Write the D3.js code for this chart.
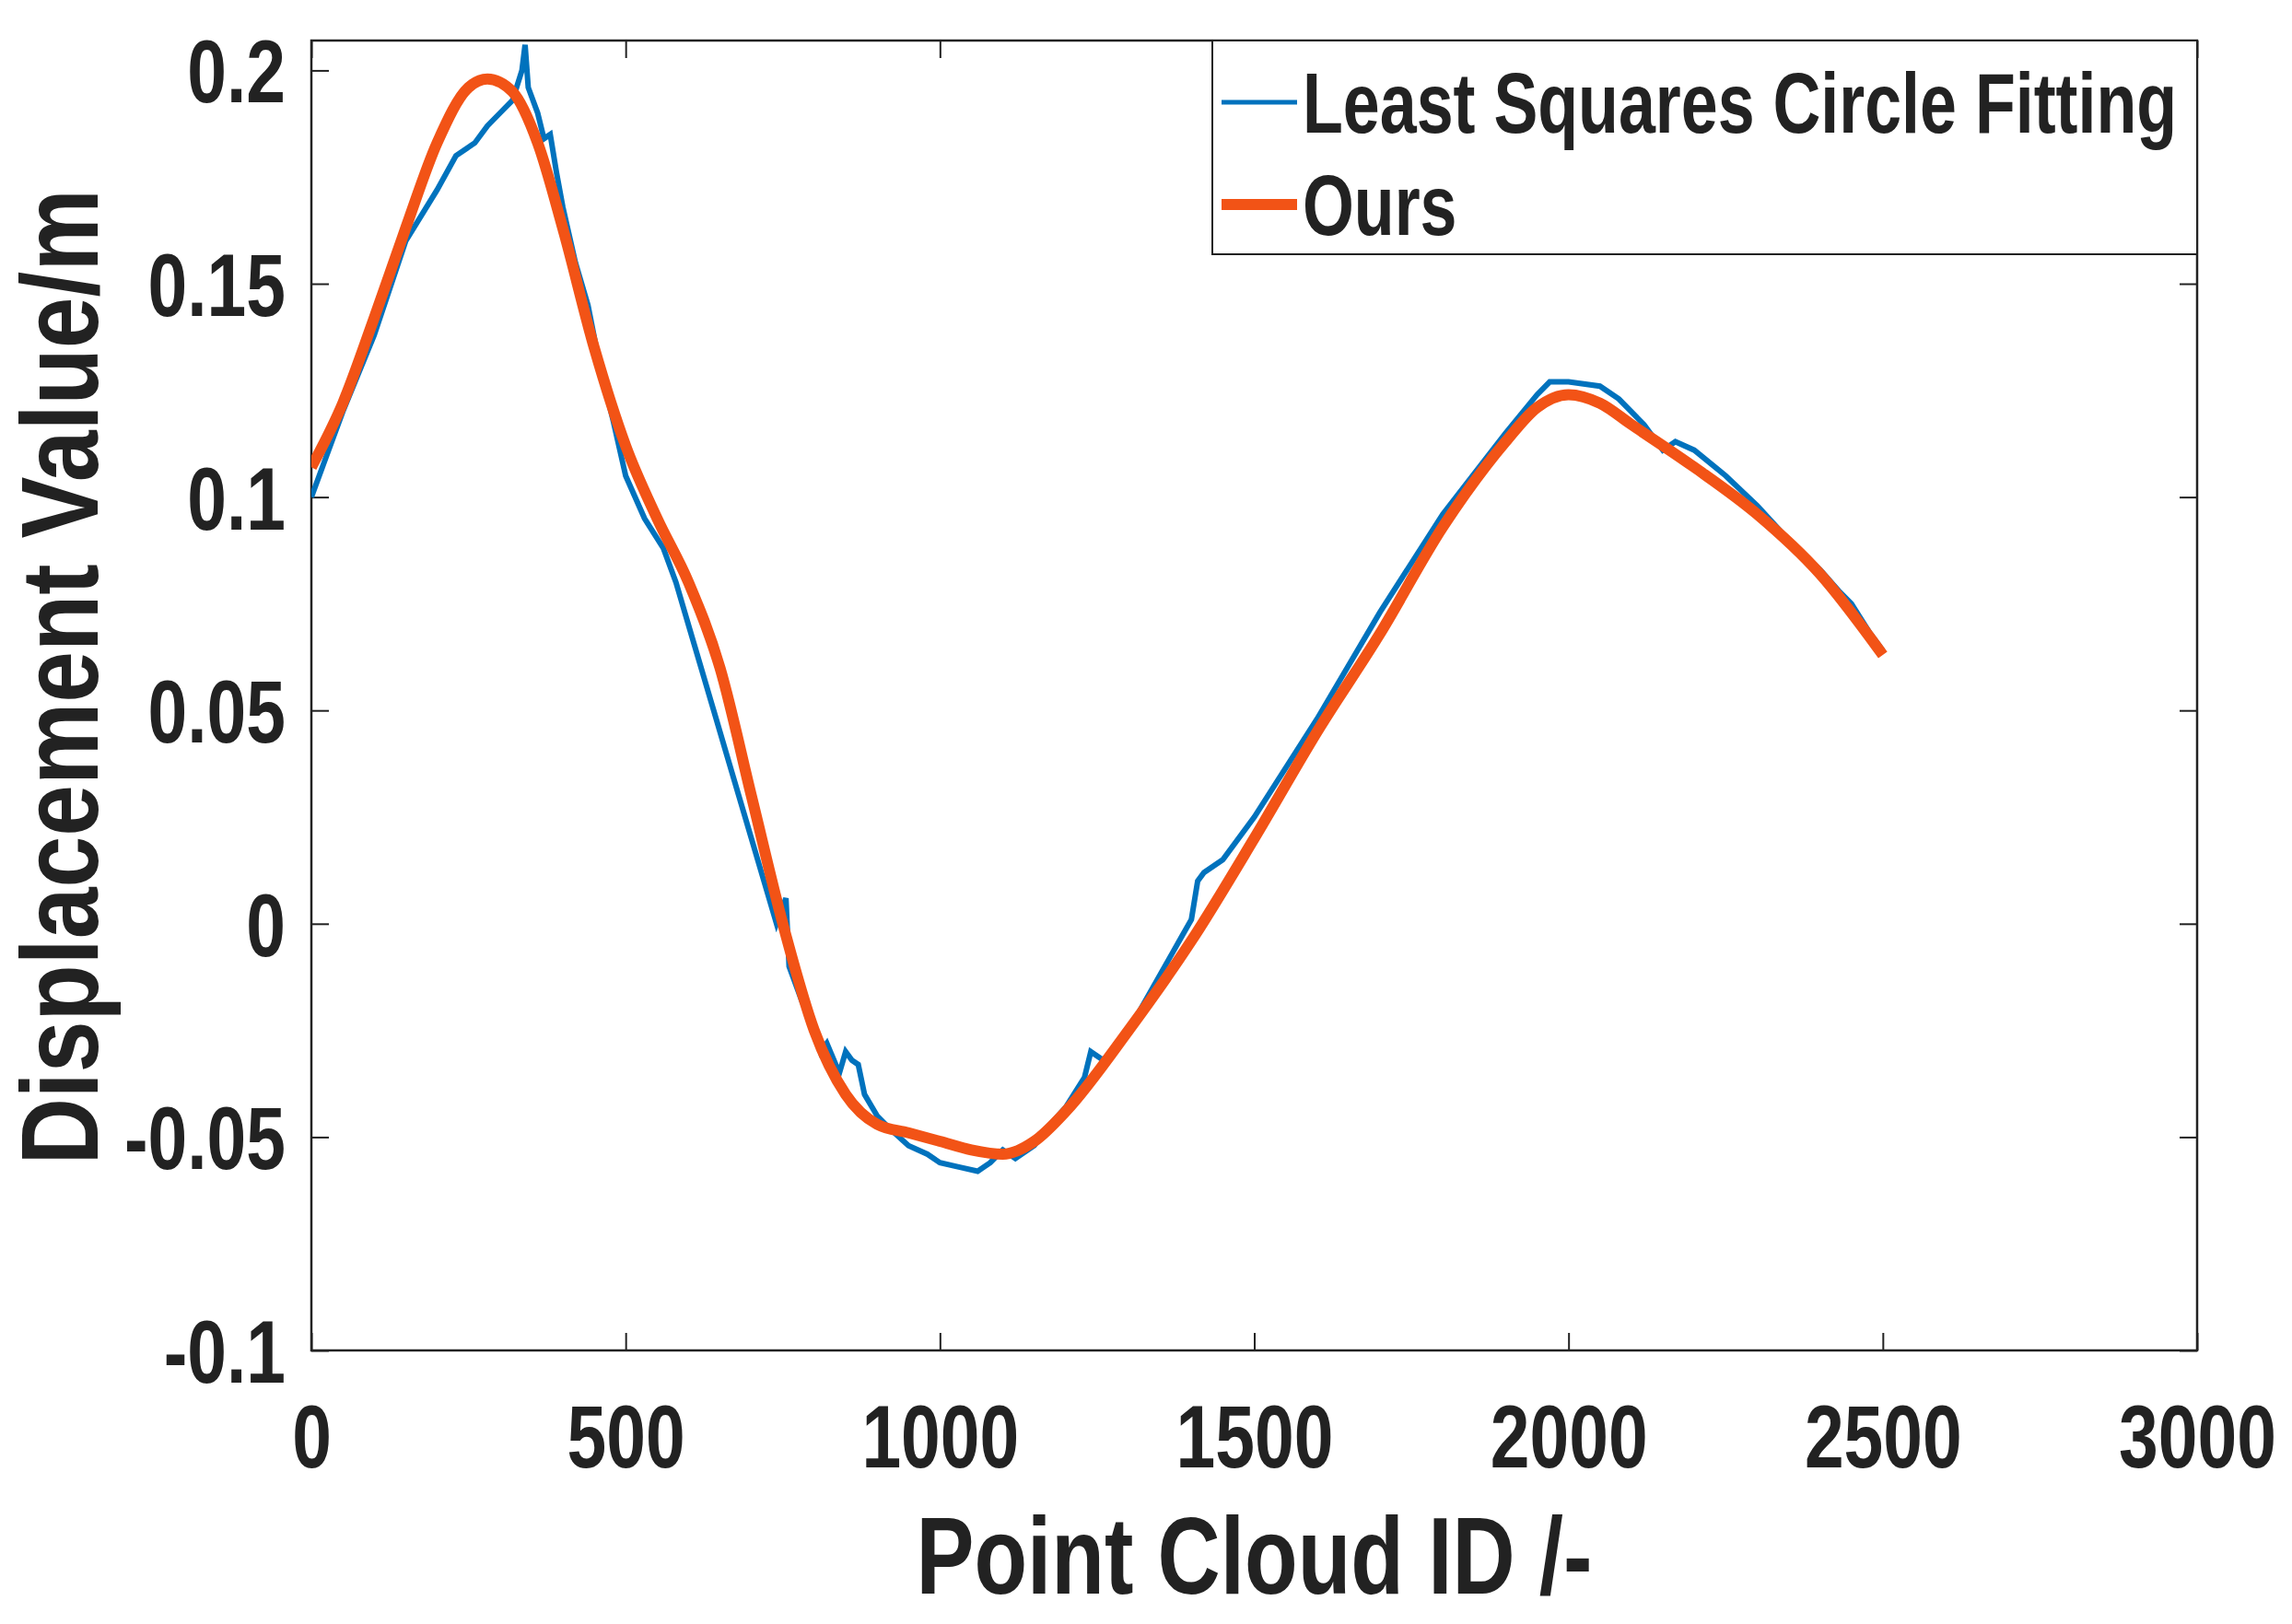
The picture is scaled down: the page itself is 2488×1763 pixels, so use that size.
<!DOCTYPE html>
<html><head><meta charset="utf-8">
<script src="https://cdn.jsdelivr.net/npm/d3@7"></script>
<style>body{margin:0;background:#fff}svg text{font-family:"Liberation Sans",Arial,sans-serif;font-weight:bold;fill:#222}</style>
</head><body>
<script>
// fitted curve (Ours)
const oursX = [0,50,100,150,200,250,280,320,360,400,450,500,550,600,650,700,750,800,850,900,950,1000,1050,1100,1150,1200,1300,1400,1500,1600,1700,1800,1900,1950,2000,2050,2100,2200,2300,2400,2500]
const oursY = [0.107,0.122,0.142,0.163,0.183,0.196,0.198,0.195,0.183,0.163,0.135,0.112,0.095,0.080,0.060,0.030,0.000,-0.025,-0.040,-0.047,-0.049,-0.051,-0.053,-0.054,-0.051,-0.044,-0.025,-0.004,0.020,0.045,0.068,0.093,0.113,0.121,0.124,0.122,0.117,0.107,0.096,0.082,0.063]
// least squares circle fitting (noisy)
const lsX = [0,20,50,100,150,200,230,260,280,300,320,335,340,345,360,370,380,390,400,420,440,460,480,500,530,560,580,600,620,640,660,680,700,720,740,755,760,780,800,810,820,840,850,860,870,880,900,920,950,980,1000,1030,1060,1080,1100,1120,1150,1170,1200,1230,1240,1260,1300,1350,1400,1410,1420,1450,1500,1600,1700,1800,1900,1950,1970,2000,2050,2080,2120,2150,2170,2200,2250,2300,2350,2400,2430,2450,2480,2500]
const lsY = [0.100,0.108,0.120,0.138,0.160,0.172,0.180,0.183,0.187,0.190,0.193,0.200,0.206,0.196,0.190,0.184,0.185,0.176,0.168,0.155,0.145,0.130,0.118,0.105,0.095,0.088,0.080,0.070,0.060,0.050,0.040,0.030,0.020,0.010,0.000,0.006,-0.010,-0.018,-0.025,-0.030,-0.028,-0.035,-0.030,-0.032,-0.033,-0.040,-0.045,-0.048,-0.052,-0.054,-0.056,-0.057,-0.058,-0.056,-0.053,-0.055,-0.052,-0.048,-0.043,-0.036,-0.030,-0.032,-0.025,-0.012,0.001,0.010,0.012,0.015,0.025,0.048,0.073,0.096,0.115,0.124,0.127,0.127,0.126,0.123,0.117,0.111,0.113,0.111,0.105,0.098,0.090,0.083,0.078,0.075,0.068,0.064]
const xTicks = [0,500,1000,1500,2000,2500,3000]
const yTicks = [-0.1,-0.05,0,0.05,0.1,0.15,0.2]
const seriesNames = ['Least Squares Circle Fitting','Ours']

const W = 2488, H = 1763
const m = { left: 338, right: 2385, top: 44, bottom: 1466 }
const svg = d3.select('body').append('svg').attr('width', W).attr('height', H)

const x = d3.scaleLinear().domain([0, 3000]).range([m.left, m.right])
const y = d3.scaleLinear().domain([-0.1, 0.207]).range([m.bottom, m.top])

// squeeze text horizontally, the reference font is narrow
function condense(sel, f) {
  sel.each(function() {
    const l = this.getComputedTextLength()
    d3.select(this).attr('textLength', l * f).attr('lengthAdjust', 'spacingAndGlyphs')
  })
}

const tl = 19
const axes = [
  [d3.axisBottom(x).tickValues(xTicks).tickSize(-tl).tickFormat(d3.format('d')), m.bottom, 'x'],
  [d3.axisTop(x).tickValues(xTicks).tickSize(-tl).tickFormat(''), m.top, 'x'],
  [d3.axisLeft(y).tickValues(yTicks).tickSize(-tl).tickFormat(d => d === 0 ? '0' : String(d)), m.left, 'y'],
  [d3.axisRight(y).tickValues(yTicks).tickSize(-tl).tickFormat(''), m.right, 'y'],
]
axes.forEach(([ax, pos, dir]) => {
  const g = svg.append('g')
    .attr('transform', dir === 'x' ? `translate(0,${pos})` : `translate(${pos},0)`)
    .call(ax)
  g.select('.domain').remove()
  g.selectAll('line').attr('stroke', '#222').attr('stroke-width', 2)
  const t = g.selectAll('text').attr('font-size', 96).attr('fill', '#222')
  if (dir === 'x') t.attr('y', 0).attr('dy', 0).attr('transform', 'translate(0,127)')
  else t.attr('x', -28).attr('dy', '0.36em')
  condense(t, 0.8)
})
svg.append('rect').attr('x', m.left).attr('y', m.top)
  .attr('width', m.right - m.left).attr('height', m.bottom - m.top)
  .attr('fill', 'none').attr('stroke', '#222').attr('stroke-width', 2.5)

const line = d3.line().x(d => x(d[0])).y(d => y(d[1]))
svg.append('clipPath').attr('id', 'c').append('rect')
  .attr('x', m.left).attr('y', m.top).attr('width', m.right - m.left).attr('height', m.bottom - m.top)
svg.append('path').datum(d3.zip(lsX, lsY)).attr('d', line)
  .attr('fill', 'none').attr('stroke', '#0072BD').attr('stroke-width', 6).attr('clip-path', 'url(#c)')
svg.append('path').datum(d3.zip(oursX, oursY)).attr('d', line.curve(d3.curveMonotoneX))
  .attr('fill', 'none').attr('stroke', '#F25316').attr('stroke-width', 12).attr('clip-path', 'url(#c)')

// legend
const lg = svg.append('g')
lg.append('rect').attr('x', 1316).attr('y', 44).attr('width', 2385 - 1316).attr('height', 232)
  .attr('fill', '#fff').attr('stroke', '#222').attr('stroke-width', 2)
const colors = ['#0072BD', '#F25316'], widths = [5, 12]
seriesNames.forEach((n, i) => {
  const yy = 111 + i * 111
  lg.append('line').attr('x1', 1326).attr('x2', 1408).attr('y1', yy).attr('y2', yy)
    .attr('stroke', colors[i]).attr('stroke-width', widths[i])
  const t = lg.append('text').attr('x', 1414).attr('y', yy).attr('dy', '0.36em').attr('font-size', 92).text(n)
  condense(t, 0.78)
})

const xl = svg.append('text').attr('x', (m.left + m.right) / 2).attr('y', 1730)
  .attr('text-anchor', 'middle').attr('font-size', 118).text('Point Cloud ID /-')
condense(xl, 0.8)
const yl = svg.append('text').attr('transform', `translate(106,${(m.top + m.bottom) / 2 - 20}) rotate(-90)`)
  .attr('text-anchor', 'middle').attr('font-size', 118).text('Displacement Value/m')
condense(yl, 0.85)
</script>
</body></html>
